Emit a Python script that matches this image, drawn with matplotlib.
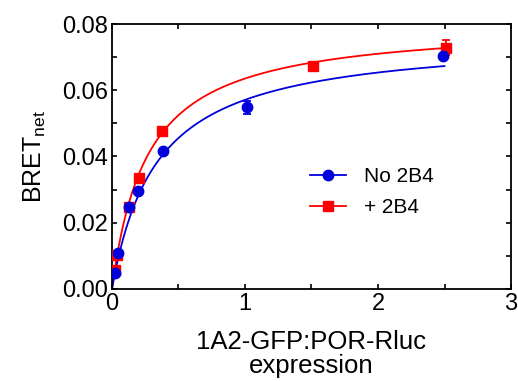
import numpy as np
import matplotlib
matplotlib.use("Agg")
import matplotlib.pyplot as plt
from matplotlib.ticker import MultipleLocator

plt.rcParams['font.family'] = ['Liberation Sans', 'DejaVu Sans']

# measured points
x_no = [0.023, 0.048, 0.13, 0.199, 0.387, 1.016, 2.49]
y_no = [0.0049, 0.0108, 0.0247, 0.0297, 0.0417, 0.0549, 0.0703]
err_no = [0.0003, 0.0003, 0.0004, 0.0004, 0.0004, 0.0020, 0.0005]

x_plus = [0.023, 0.040, 0.13, 0.206, 0.375, 1.51, 2.51]
y_plus = [0.0057, 0.0103, 0.0249, 0.0336, 0.0477, 0.0674, 0.0729]
err_plus = [0.0003, 0.0003, 0.0004, 0.0004, 0.0004, 0.0006, 0.0022]

# one-site saturation fit parameters (Bmax, Kd)
fit_no = (0.0764, 0.338)
fit_plus = (0.0805, 0.267)

fig = plt.figure(figsize=(5.18, 3.81), dpi=100)
ax = fig.add_axes([0.2162, 0.2415, 0.7703, 0.6955])

xf = np.linspace(0, 2.5, 300)
for (bmax, kd), col in [(fit_plus, '#ff0000'), (fit_no, '#0000dd')]:
    ax.plot(xf, bmax * xf / (kd + xf), color=col, lw=1.3, zorder=2)

ax.errorbar(x_plus, y_plus, yerr=err_plus, fmt='s', color='#ff0000', ms=7.5,
            capsize=3, elinewidth=1.3, capthick=1.3, zorder=3)
ax.errorbar(x_no, y_no, yerr=err_no, fmt='o', color='#0000dd', ms=7.5,
            capsize=3, elinewidth=1.3, capthick=1.3, zorder=4)

# legend handles
h1, = ax.plot([], [], '-o', color='#0000dd', ms=7.5, lw=1.3, label='No 2B4')
h2, = ax.plot([], [], '-s', color='#ff0000', ms=7.5, lw=1.3, label='+ 2B4')
ax.legend(handles=[h1, h2], loc='upper left', bbox_to_anchor=(0.476, 0.49),
          frameon=False, fontsize=15, handlelength=1.7, handletextpad=0.9,
          labelspacing=0.55, borderaxespad=0)

ax.set_xlim(0, 3)
ax.set_ylim(0, 0.08)
ax.xaxis.set_major_locator(MultipleLocator(1))
ax.xaxis.set_minor_locator(MultipleLocator(0.5))
ax.yaxis.set_major_locator(MultipleLocator(0.02))
ax.yaxis.set_minor_locator(MultipleLocator(0.01))
ax.yaxis.set_major_formatter(matplotlib.ticker.FormatStrFormatter('%.2f'))
ax.tick_params(which='both', direction='in', top=True, right=True,
               length=3.5, width=1.2, labelsize=17, pad=3)
for s in ax.spines.values():
    s.set_linewidth(1.3)

ax.set_ylabel(r'BRET$_{\mathregular{net}}$', fontsize=18, labelpad=10)
ax.set_xlabel('1A2-GFP:POR-Rluc\nexpression', fontsize=18.5, labelpad=11,
              linespacing=0.98)

fig.savefig('out.png', dpi=100)
